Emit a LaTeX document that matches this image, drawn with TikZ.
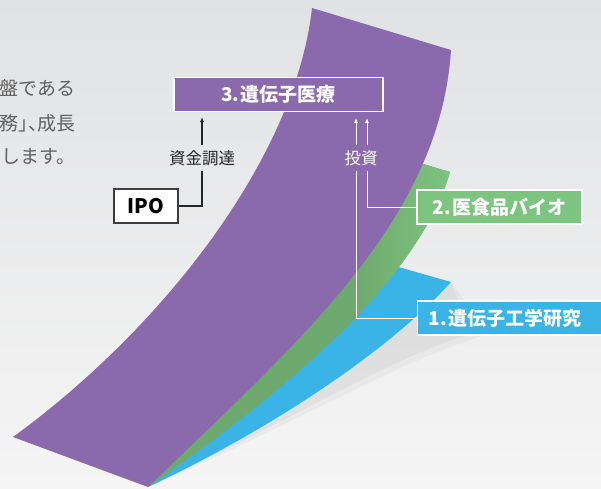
\documentclass[tikz,border=0pt]{standalone}
\usepackage{fontspec}
\setmainfont{Noto Sans CJK JP}
\usetikzlibrary{arrows.meta}

\definecolor{bgtop}{HTML}{E1E2E4}
\definecolor{bgbot}{HTML}{F5F5F5}
\definecolor{purp}{HTML}{8A6AAC}
\definecolor{grn}{HTML}{7DC480}
\definecolor{grnd}{HTML}{6EA96D}
\definecolor{blu}{HTML}{3AB4E6}
\definecolor{inkdark}{HTML}{262626}
\definecolor{paragray}{HTML}{606060}
\definecolor{ipoline}{HTML}{3C3C3C}

\tikzset{
  tag/.style={draw=white, line width=1.3pt, text=white, inner sep=0pt,
    minimum height=34pt, font=\bfseries\fontsize{19}{19}\selectfont},
  para/.style={text=paragray, inner sep=0pt, anchor=east,
    font=\fontsize{19}{19}\selectfont},
  flowlabel/.style={inner sep=0pt, minimum height=25pt,
    font=\fontsize{16.5}{16.5}\selectfont},
  tip/.style={-{Latex[length=5pt,width=4pt]}},
  darkline/.style={draw=inkdark, line width=1.2pt},
  whiteline/.style={draw=white, line width=1pt},
}

\begin{document}
\begin{tikzpicture}[x=1pt,y=-1pt]
\useasboundingbox (0,0) rectangle (601,488);
\shade[top color=bgtop, bottom color=bgbot] (0,0) rectangle (601,488);

% lead-in text at the left edge
\node[para] (p1) at (76,88) {盤である};
\node[para] (p2) at (76,123) {\addfontfeatures{RawFeature=+palt}務」、成長};
\node[para] (p3) at (76,157) {します。};

% soft shadow beneath the lowest sheet
\fill[black, opacity=0.03] (148,487) .. controls (270,430) and (390,350) .. (451,282)
  -- (488,334) .. controls (395,362) and (270,437) .. (148,487) -- cycle;
\fill[black, opacity=0.035] (148,487) .. controls (270,430) and (390,350) .. (451,282)
  -- (470,334) .. controls (385,360) and (268,433) .. (148,487) -- cycle;

% sheet 1 (blue)
\fill[blu] (395,266) -- (451,282) .. controls (390,350) and (270,430) .. (148,487)
  -- (300,330) -- cycle;

% sheet 2 (green, darker toward the purple sheet)
\begin{scope}
  \clip (400,157) -- (450,172) .. controls (415,290) and (265,405) .. (148,487)
    -- (250,300) -- cycle;
  \fill[grnd] (140,150) rectangle (460,490);
  \shade[left color=grnd, right color=grn] (350,150) rectangle (452,490);
\end{scope}

% sheet 3 (purple)
\fill[purp] (312,8) -- (451,50) .. controls (440,220) and (300,340) .. (148,487)
  -- (13,437) .. controls (160,330) and (295,160) .. (312,8) -- cycle;

% stage boxes
\node[tag, fill=purp, minimum width=209pt] (med) at (278.5,94.5) {3.\hspace{1.5pt}遺伝子医療};
\node[tag, fill=grn, minimum width=165pt] (food) at (499.5,207) {2.\hspace{1.5pt}医食品バイオ};
\node[tag, fill=blu, anchor=west, inner xsep=11pt, text width=201pt, align=left]
  (gene) at (417,318) {1.\hspace{1.5pt}遺伝子工学研究};
\node[draw=ipoline, line width=1.5pt, fill=white, text=black, inner sep=0pt,
  minimum width=64pt, minimum height=34pt,
  font=\bfseries\fontsize{20}{20}\selectfont] (ipo) at (146,206) {IPO};

% flow labels
\node[flowlabel, text=inkdark] (fund) at (202,158) {資金調達};
\node[flowlabel, text=white] (inv) at (361,158) {投資};

% arrow ends under the top box
\coordinate (tipF) at (202,117);
\coordinate (tipA) at (356,118);
\coordinate (tipB) at (367,118);

% funding from the IPO
\draw[darkline] (ipo.east) -| (fund.south);
\draw[darkline, tip] (fund.north) -- (tipF);

% investment from stages 1 and 2
\draw[whiteline] (gene.west) -| (tipA |- inv.south);
\draw[whiteline, tip] (tipA |- inv.north) -- (tipA);
\draw[whiteline] (food.west) -| (tipB |- inv.south);
\draw[whiteline, tip] (tipB |- inv.north) -- (tipB);
\end{tikzpicture}
\end{document}
